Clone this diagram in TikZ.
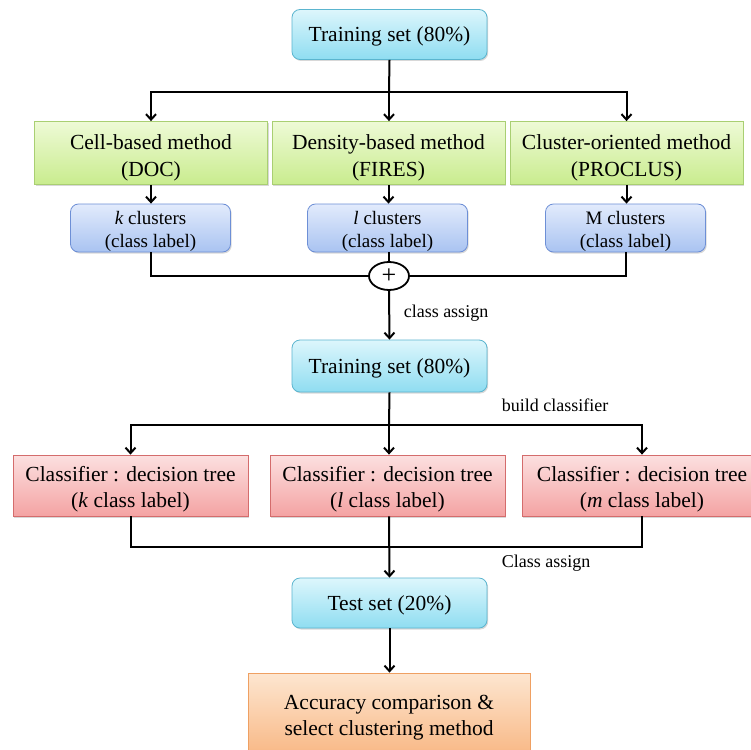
\documentclass[tikz,border=0pt]{standalone}
\usepackage{fontspec}
\setmainfont{Liberation Serif}
\usetikzlibrary{arrows.meta,shapes.geometric,shadows}
\definecolor{cyT}{HTML}{DDF6FC}\definecolor{cyB}{HTML}{8FDDF1}\definecolor{cyD}{HTML}{5BB5CF}
\definecolor{grT}{HTML}{EEFAD6}\definecolor{grB}{HTML}{C9EC8E}\definecolor{grD}{HTML}{A9CF72}
\definecolor{blT}{HTML}{E2EBFC}\definecolor{blB}{HTML}{A9C3F1}\definecolor{blD}{HTML}{6D8FD6}
\definecolor{rdT}{HTML}{FCE0E0}\definecolor{rdB}{HTML}{F4A3A3}\definecolor{rdD}{HTML}{D46C6C}
\definecolor{orT}{HTML}{FDE6D0}\definecolor{orB}{HTML}{F8B784}\definecolor{orD}{HTML}{EFA062}
\tikzset{
  boxbase/.style={draw, line width=0.8pt, inner sep=0pt,
    drop shadow={shadow xshift=1.2pt, shadow yshift=-1.5pt, opacity=0.3}},
  bigtext/.style={align=center, inner sep=0pt, font=\fontsize{21.5}{26}\selectfont},
  greentext/.style={align=center, inner sep=0pt, font=\fontsize{21.5}{27}\selectfont},
  smalltext/.style={align=center, inner sep=0pt, font=\fontsize{19}{23.5}\selectfont},
  cyanbox/.style={boxbase, rounded corners=8pt, top color=cyT, bottom color=cyB, draw=cyD,
    minimum width=195pt, minimum height=50pt},
  greenbox/.style={boxbase, top color=grT, bottom color=grB, draw=grD,
    minimum width=233pt, minimum height=63pt},
  bluebox/.style={boxbase, rounded corners=8pt, top color=blT, bottom color=blB, draw=blD,
    minimum width=160pt, minimum height=48pt},
  redbox/.style={boxbase, top color=rdT, bottom color=rdB, draw=rdD,
    minimum width=235pt, minimum height=61pt},
  orangebox/.style={boxbase, top color=orT, bottom color=orB, draw=orD,
    minimum width=282pt, minimum height=84pt},
  conn/.style={line width=2pt, black},
  arr/.style={conn, -{Straight Barb[length=5.5pt,width=10pt,line width=2pt]}},
  lbl/.style={font=\fontsize{18}{21}\selectfont, anchor=center}
}
\begin{document}
\begin{tikzpicture}[x=1pt,y=-1pt]
\useasboundingbox (0,0) rectangle (751,749);
\fill[white] (0,0) rectangle (751,749);

\node[cyanbox] (ts1) at (389.5,34.5) {};
\node[bigtext] (ts1t) at ([yshift=-2pt]ts1.center) {Training set (80\%)};

\node[greenbox] (g1) at (151,153) {};
\node[greenbox] (g2) at (388.5,153) {};
\node[greenbox] (g3) at (626.5,153) {};
\node[greentext] (g1t) at ([yshift=-4.5pt]g1.center) {Cell-based method\\(DOC)};
\node[greentext] (g2t) at ([yshift=-4.5pt]g2.center) {Density-based method\\(FIRES)};
\node[greentext] (g3t) at ([yshift=-4.5pt]g3.center) {Cluster-oriented method\\(PROCLUS)};

\node[bluebox] (b1) at (150.5,228) {};
\node[bluebox] (b2) at (387.5,228) {};
\node[bluebox] (b3) at (625.5,228) {};
\node[smalltext] (b1t) at ([yshift=-3.5pt]b1.center) {\textit{k} clusters\\(class label)};
\node[smalltext] (b2t) at ([yshift=-3.5pt]b2.center) {\textit{l} clusters\\(class label)};
\node[smalltext] (b3t) at ([yshift=-3.5pt]b3.center) {M clusters\\(class label)};

\node[ellipse, draw, line width=1.8pt, minimum width=40pt, minimum height=28pt, inner sep=0pt,
  font=\fontsize{26}{26}\selectfont] (plus) at (389,276) {+};

\node[cyanbox, minimum height=52pt] (ts2) at (389.5,366) {};
\node[bigtext] (ts2t) at ([yshift=-2pt]ts2.center) {Training set (80\%)};

\node[redbox] (r1) at (130.5,485.5) {};
\node[redbox] (r2) at (387.5,485.5) {};
\node[redbox, minimum width=240pt] (r3) at (642,485.5) {};
\node[bigtext] (r1t) at ([yshift=-4pt]r1.center) {Classifier : decision tree\\(\textit{k} class label)};
\node[bigtext] (r2t) at ([yshift=-4pt]r2.center) {Classifier : decision tree\\(\textit{l} class label)};
\node[bigtext] (r3t) at ([yshift=-4pt]r3.center) {Classifier : decision tree\\(\textit{m} class label)};

\node[cyanbox] (test) at (389.5,603) {};
\node[bigtext] (testt) at ([yshift=-2pt]test.center) {Test set (20\%)};

\node[orangebox] (acc) at (389,715) {};
\node[bigtext] (acct) at ([yshift=-2.5pt]acc.center) {Accuracy comparison \&\\select clustering method};

% junctions
\coordinate (j1) at (389,92);
\coordinate (j2) at (389,425);
\coordinate (j3) at (389,547);

\draw[conn] (ts1.south) -- (j1);
\draw[arr] (j1) -| (g1.north);
\draw[arr] (j1) -| (g3.north);
\draw[arr] (j1) -- (j1 |- g2.north);

\draw[arr] (g1.south) -- (g1.south |- b1.north);
\draw[arr] (g2.south) -- (g2.south |- b2.north);
\draw[arr] (g3.south) -- (g3.south |- b3.north);

\draw[conn] (b1.south) |- (plus.west);
\draw[conn] (b3.south) |- (plus.east);
\draw[conn] (plus.north |- b2.south) -- (plus.north);
\draw[arr] (plus.south) -- (ts2.north);
\node[lbl] (la) at (446,313) {class assign};

\draw[conn] (ts2.south) -- (j2);
\draw[arr] (j2) -| (r1.north);
\draw[arr] (j2) -| (r3.north);
\draw[arr] (j2) -- (j2 |- r2.north);
\node[lbl] (lb) at (555,405) {build classifier};

\draw[conn] (r1.south) |- (j3);
\draw[conn] (r3.south) |- (j3);
\draw[arr] (j3 |- r2.south) -- (test.north);
\node[lbl] (lc) at (546,563) {Class assign};

\draw[arr] (test.south) -- (test.south |- acc.north);
\end{tikzpicture}
\end{document}
